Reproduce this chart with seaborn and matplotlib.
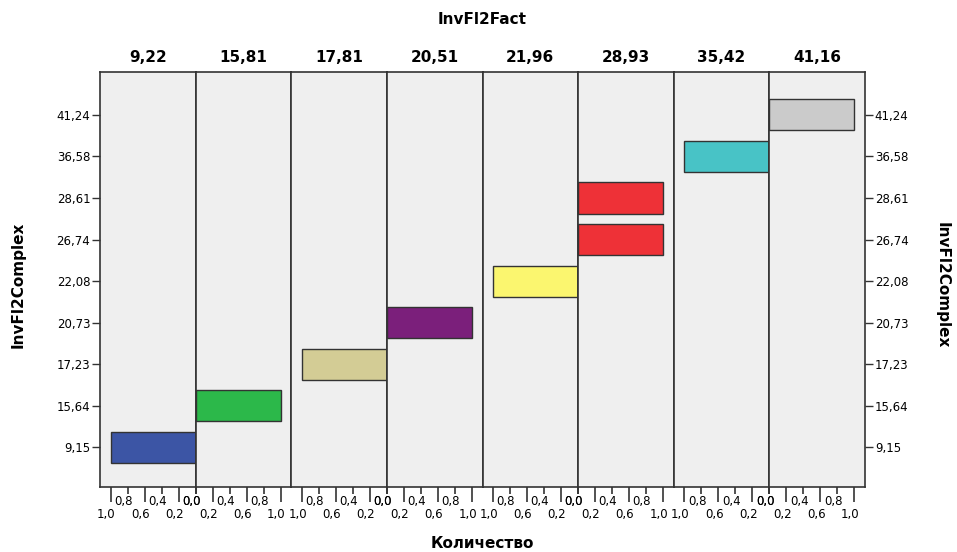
import numpy as np
import pandas as pd
import matplotlib.pyplot as plt
import matplotlib.transforms as mtransforms
import seaborn as sns

# ============ DATA ============
fact_levels = ['9,22', '15,81', '17,81', '20,51', '21,96', '28,93', '35,42', '41,16']
complex_levels = ['41,24', '36,58', '28,61', '26,74', '22,08', '20,73', '17,23', '15,64', '9,15']

fact_values = ['9,22', '15,81', '17,81', '20,51', '21,96', '28,93', '28,93', '35,42', '41,16']
complex_values = ['9,15', '15,64', '17,23', '20,73', '22,08', '26,74', '28,61', '36,58', '41,24']
counts = [1, 1, 1, 1, 1, 1, 1, 1, 1]

panel_colors = ['#3c55a5', '#2cb84a', '#d3cc95', '#7b1f7b', '#fbf66f',
                '#ee3137', '#48c3c6', '#cbcbcb']

df = pd.DataFrame({'fact': fact_values, 'complex': complex_values, 'count': counts})

# ============ PLOT ============
sns.set_style('white')
plt.rcParams['font.family'] = ['DejaVu Sans']
for key in ['text.color', 'axes.labelcolor', 'xtick.labelcolor', 'ytick.labelcolor']:
    plt.rcParams[key] = 'black'

fig, axes = plt.subplots(1, 8, figsize=(9.57, 5.52), dpi=100)
fig.subplots_adjust(left=0.1045, right=0.9039, top=0.8696, bottom=0.1178, wspace=0)

xmax = 1.125
major = [0.2, 0.6, 1.0]
minor = [0.0, 0.4, 0.8]
# SPSS draws the tick labels a little to the left of their ticks
shift = mtransforms.ScaledTranslation(-3 / 72, 0, fig.dpi_scale_trans)


def fmt(v):
    return f'{v:.1f}'.replace('.', ',')


for i, ax in enumerate(axes):
    sub = df[df['fact'] == fact_levels[i]]
    sns.barplot(data=sub, x='count', y='complex', order=complex_levels, orient='h',
                color=panel_colors[i], saturation=1, width=0.75, errorbar=None,
                edgecolor='#333333', linewidth=1, ax=ax)
    ax.set_facecolor('#efefef')
    if i % 2 == 0:
        ax.set_xlim(xmax, 0)
    else:
        ax.set_xlim(0, xmax)
    ax.set_ylim(8.95, -1.03)

    ax.set_xticks(major)
    ax.set_xticklabels([fmt(v) for v in major])
    ax.set_xticks(minor, minor=True)
    ax.set_xticklabels([fmt(v) for v in minor], minor=True)
    ax.tick_params(axis='x', which='major', length=11, width=1.2, color='#333333',
                   pad=4, labelsize=8.5, bottom=True)
    ax.tick_params(axis='x', which='minor', length=5, width=1.2, color='#333333',
                   pad=1, labelsize=8.5, bottom=True)
    for lab in ax.get_xticklabels() + ax.get_xticklabels(minor=True):
        lab.set_transform(lab.get_transform() + shift)

    for s in ax.spines.values():
        s.set_color('#333333')
        s.set_linewidth(1.2)

    ax.set_xlabel('')
    ax.set_ylabel('')
    ax.set_title(fact_levels[i], fontweight='bold', fontsize=11, pad=7, color='black')

    if i == 0:
        ax.set_yticks(range(len(complex_levels)))
        ax.set_yticklabels(complex_levels)
        ax.tick_params(axis='y', left=True, length=6, width=1, color='#333333',
                       labelsize=8.5, pad=1)
    elif i == len(axes) - 1:
        ax.set_yticks(range(len(complex_levels)))
        ax.set_yticklabels(complex_levels)
        ax.yaxis.tick_right()
        ax.tick_params(axis='y', right=True, length=6, width=1, color='#333333',
                       labelsize=8.5, pad=1)
    else:
        ax.tick_params(axis='y', left=False, right=False, labelleft=False)

fig.text(482.5 / 957, 1 - 20 / 552, 'InvFl2Fact', ha='center', va='center',
         fontweight='bold', fontsize=11)
fig.text(482.5 / 957, 1 - 543 / 552, 'Количество', ha='center', va='center',
         fontweight='bold', fontsize=11)
fig.text(18 / 957, 1 - 285 / 552, 'InvFl2Complex', ha='center', va='center',
         rotation=90, fontweight='bold', fontsize=11)
fig.text(942 / 957, 1 - 285 / 552, 'InvFl2Complex', ha='center', va='center',
         rotation=-90, fontweight='bold', fontsize=11)

plt.savefig('out.png', dpi=100)
